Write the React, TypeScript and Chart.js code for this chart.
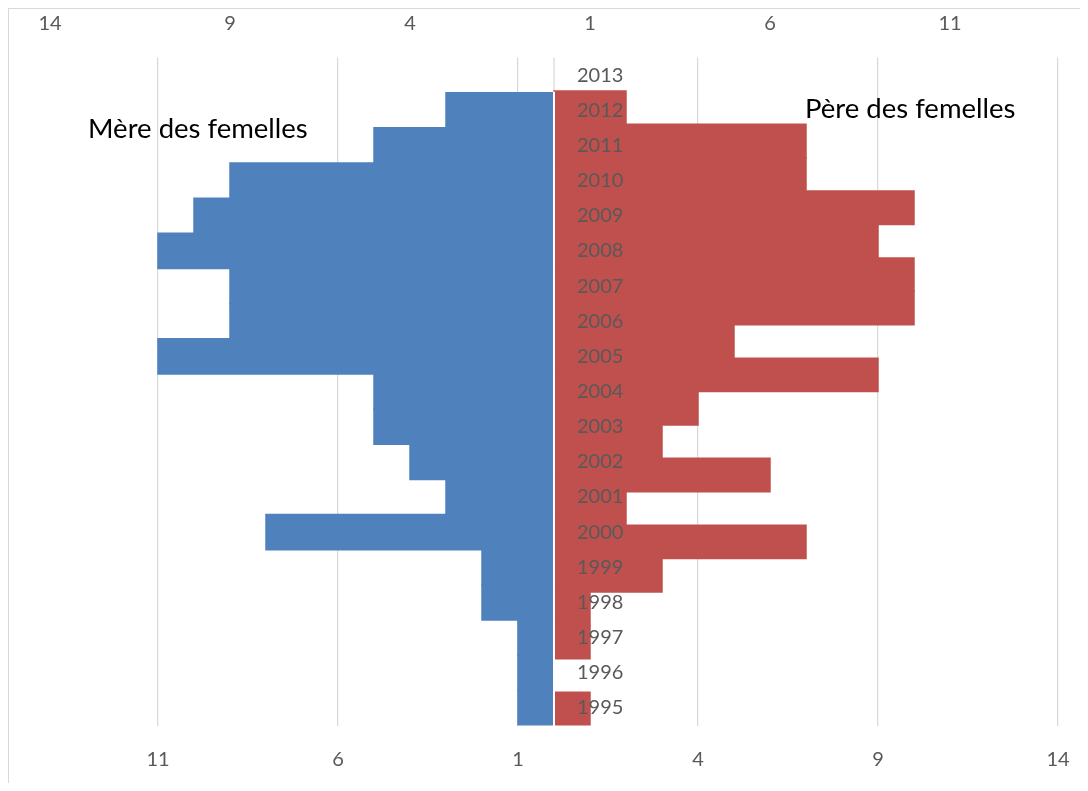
import React, { useEffect, useRef } from 'react';
import { Chart, registerables } from 'chart.js';

Chart.register(...registerables);

// Years shown along the centre (top to bottom)
const years = ['2013', '2012', '2011', '2010', '2009', '2008', '2007', '2006', '2005', '2004', '2003', '2002', '2001', '2000', '1999', '1998', '1997', '1996', '1995'];
// Mère des femelles (left, primary axes)
const mereValues = [0, 3, 5, 9, 10, 11, 9, 9, 11, 5, 5, 4, 3, 8, 2, 2, 1, 1, 1];
// Père des femelles (right, secondary axes, 20 categories)
const pereCategories = ['2014', '2013', '2012', '2011', '2010', '2009', '2008', '2007', '2006', '2005', '2004', '2003', '2002', '2001', '2000', '1999', '1998', '1997', '1996', '1995'];
const pereValues = [0, 2, 7, 7, 10, 9, 10, 10, 5, 9, 4, 3, 6, 2, 7, 3, 1, 1, 0, 1];

const bottomTicks = [-11, -6, -1, 4, 9, 14];
const topTicks = [-14, -9, -4, 1, 6, 11];
const axisMin = -14;
const axisMax = 14;

const mereLabel = 'Mère des femelles';
const pereLabel = 'Père des femelles';

const FONT = 'Lato';
const TICK_COLOR = '#595959';
const GRID_COLOR = '#d9d9d9';

const overlayPlugin = {
  id: 'overlay',
  beforeDatasetsDraw(chart: any) {
    const { ctx, chartArea, scales } = chart;
    const x0 = scales.x.getPixelForValue(0);
    ctx.save();
    ctx.strokeStyle = GRID_COLOR;
    ctx.lineWidth = 1.25;
    ctx.beginPath();
    ctx.moveTo(x0, chartArea.top);
    ctx.lineTo(x0, chartArea.bottom);
    ctx.stroke();
    ctx.restore();
  },
  afterDatasetsDraw(chart: any) {
    const { ctx, chartArea, scales } = chart;
    const yScale = scales.y;
    const x0 = scales.x.getPixelForValue(0);
    ctx.save();
    // white separator between the two halves of the pyramid
    ctx.strokeStyle = '#ffffff';
    ctx.lineWidth = 2;
    ctx.beginPath();
    ctx.moveTo(x0, yScale.getPixelForValue(0.5) - 1);
    ctx.lineTo(x0, chartArea.bottom + 1);
    ctx.stroke();

    ctx.font = `20px ${FONT}`;
    ctx.fillStyle = TICK_COLOR;
    ctx.textAlign = 'left';
    ctx.textBaseline = 'middle';
    years.forEach((lab, i) => {
      ctx.fillText(lab, x0 + 23, yScale.getPixelForValue(i));
    });
    ctx.font = `27.5px ${FONT}`;
    ctx.fillStyle = '#000000';
    ctx.textBaseline = 'alphabetic';
    ctx.fillText(mereLabel, 79, 129.3);
    ctx.fillText(pereLabel, 796, 109.3);
    ctx.restore();
  },
};

export default function App() {
  const canvasRef = useRef<HTMLCanvasElement | null>(null);

  useEffect(() => {
    if (!canvasRef.current) return;
    const tickFont = { family: FONT, size: 20 };
    const chart = new Chart(canvasRef.current, {
      type: 'bar',
      data: {
        labels: years,
        datasets: [
          {
            label: mereLabel,
            data: mereValues.map((v) => (v === 0 ? null : -v)),
            xAxisID: 'x',
            yAxisID: 'y',
            backgroundColor: '#4F81BD',
            borderWidth: 0,
            inflateAmount: 0.75,
            barPercentage: 1,
            categoryPercentage: 1,
            grouped: false,
          } as any,
          {
            label: pereLabel,
            data: pereValues.map((v) => (v === 0 ? null : v)),
            xAxisID: 'x2',
            yAxisID: 'y2',
            backgroundColor: '#C0504D',
            borderWidth: 0,
            inflateAmount: 0.75,
            barPercentage: 1,
            categoryPercentage: 1,
            grouped: false,
          } as any,
        ],
      },
      options: {
        indexAxis: 'y',
        animation: false,
        responsive: false,
        layout: { padding: { left: 41, right: 22, top: 0, bottom: 0 } },
        plugins: { legend: { display: false }, tooltip: { enabled: false } },
        scales: {
          x: {
            type: 'linear',
            position: 'bottom',
            min: axisMin,
            max: axisMax,
            afterBuildTicks: (s: any) => {
              s.ticks = bottomTicks.map((v) => ({ value: v }));
            },
            afterFit: (s: any) => {
              s.height = 57.4;
              s.paddingLeft = 0;
              s.paddingRight = 0;
            },
            grid: { color: GRID_COLOR, lineWidth: 1.25, drawTicks: false },
            border: { display: false },
            ticks: {
              padding: 22,
              color: TICK_COLOR,
              font: tickFont,
              autoSkip: false,
              maxRotation: 0,
              callback: (v: any) => String(Math.abs(Number(v))),
            },
          },
          x2: {
            type: 'linear',
            axis: 'x',
            position: 'top',
            min: axisMin,
            max: axisMax,
            afterBuildTicks: (s: any) => {
              s.ticks = topTicks.map((v) => ({ value: v }));
            },
            afterFit: (s: any) => {
              s.height = 48.5;
              s.paddingLeft = 0;
              s.paddingRight = 0;
            },
            grid: { display: false, drawTicks: false },
            border: { display: false },
            ticks: {
              padding: 22,
              color: TICK_COLOR,
              font: tickFont,
              autoSkip: false,
              maxRotation: 0,
              callback: (v: any) => String(Math.abs(Number(v))),
            },
          },
          y: {
            type: 'category',
            labels: years,
            offset: true,
            display: false,
          },
          y2: {
            type: 'category',
            axis: 'y',
            labels: pereCategories,
            offset: true,
            display: false,
          },
        } as any,
      },
      plugins: [overlayPlugin],
    } as any);
    return () => chart.destroy();
  }, []);

  return (
    <div
      style={{
        width: 1071,
        height: 774,
        borderTop: '1px solid #d9d9d9',
        borderLeft: '1px solid #d9d9d9',
        background: '#ffffff',
      }}
    >
      <canvas ref={canvasRef} width={1071} height={774} style={{ display: 'block' }} />
    </div>
  );
}
